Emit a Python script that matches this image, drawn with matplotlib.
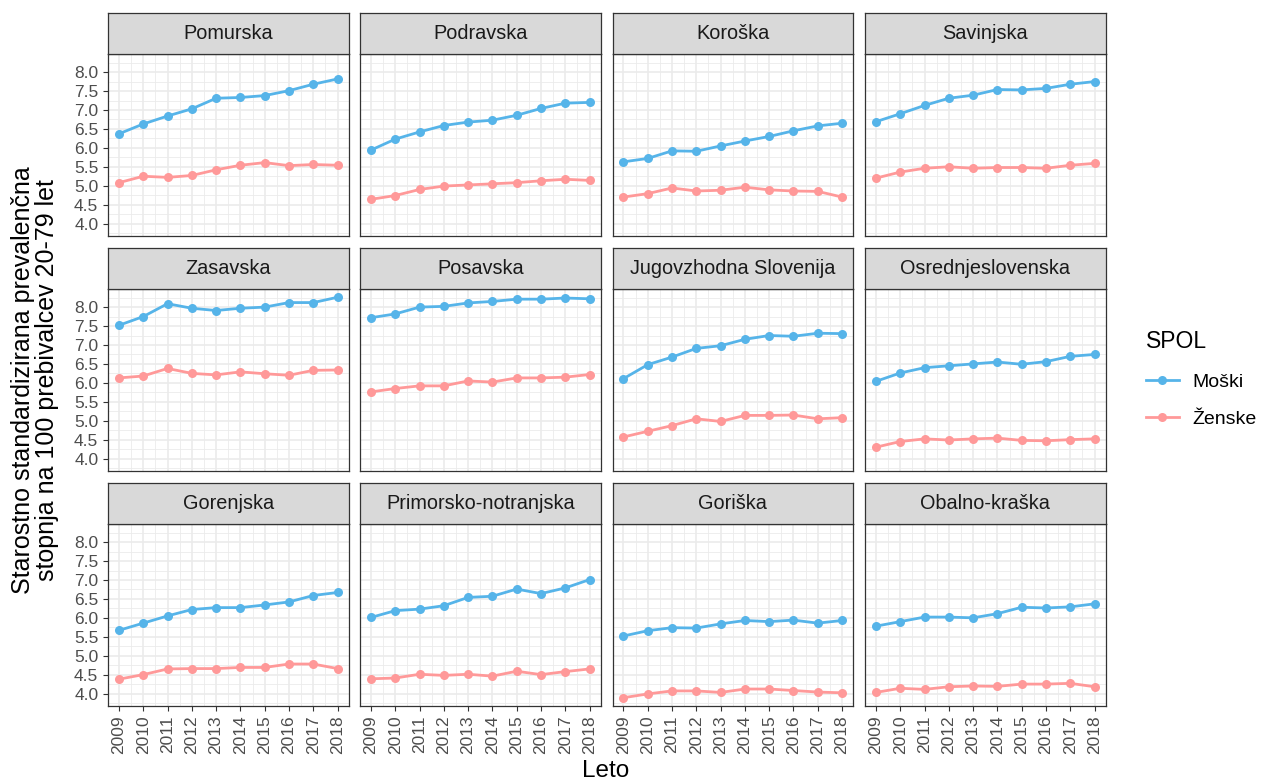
import matplotlib
matplotlib.use("Agg")
import matplotlib.pyplot as plt
from matplotlib.lines import Line2D
import numpy as np

plt.rcParams['font.family'] = ['Liberation Sans', 'DejaVu Sans']

years = list(range(2009, 2019))
regions = ["Pomurska", "Podravska", "Koroška", "Savinjska",
           "Zasavska", "Posavska", "Jugovzhodna Slovenija", "Osrednjeslovenska",
           "Gorenjska", "Primorsko-notranjska", "Goriška", "Obalno-kraška"]

moski = {
    "Pomurska": [6.37, 6.63, 6.84, 7.03, 7.31, 7.33, 7.38, 7.51, 7.68, 7.82],
    "Podravska": [5.94, 6.23, 6.42, 6.59, 6.68, 6.73, 6.86, 7.04, 7.18, 7.20],
    "Koroška": [5.63, 5.72, 5.92, 5.91, 6.05, 6.18, 6.30, 6.45, 6.58, 6.65],
    "Savinjska": [6.69, 6.90, 7.12, 7.31, 7.39, 7.54, 7.53, 7.57, 7.68, 7.75],
    "Zasavska": [7.52, 7.75, 8.09, 7.97, 7.91, 7.97, 8.00, 8.12, 8.12, 8.26],
    "Posavska": [7.72, 7.82, 8.00, 8.02, 8.11, 8.15, 8.21, 8.21, 8.24, 8.22],
    "Jugovzhodna Slovenija": [6.11, 6.48, 6.68, 6.91, 6.98, 7.15, 7.25, 7.23, 7.31, 7.30],
    "Osrednjeslovenska": [6.04, 6.26, 6.40, 6.45, 6.50, 6.55, 6.49, 6.56, 6.70, 6.75],
    "Gorenjska": [5.67, 5.86, 6.05, 6.22, 6.27, 6.27, 6.34, 6.42, 6.59, 6.67],
    "Primorsko-notranjska": [6.01, 6.19, 6.23, 6.32, 6.54, 6.57, 6.76, 6.64, 6.79, 7.01],
    "Goriška": [5.52, 5.66, 5.74, 5.73, 5.84, 5.93, 5.90, 5.94, 5.86, 5.93],
    "Obalno-kraška": [5.78, 5.90, 6.02, 6.02, 6.00, 6.11, 6.28, 6.26, 6.29, 6.37],
}
zenske = {
    "Pomurska": [5.08, 5.25, 5.22, 5.27, 5.42, 5.54, 5.61, 5.53, 5.56, 5.54],
    "Podravska": [4.64, 4.74, 4.90, 4.99, 5.02, 5.05, 5.08, 5.13, 5.17, 5.14],
    "Koroška": [4.70, 4.79, 4.94, 4.86, 4.88, 4.96, 4.89, 4.86, 4.85, 4.70],
    "Savinjska": [5.20, 5.36, 5.46, 5.50, 5.46, 5.48, 5.48, 5.46, 5.54, 5.59],
    "Zasavska": [6.13, 6.18, 6.38, 6.25, 6.21, 6.29, 6.24, 6.20, 6.33, 6.34],
    "Posavska": [5.76, 5.85, 5.92, 5.92, 6.05, 6.02, 6.13, 6.13, 6.15, 6.22],
    "Jugovzhodna Slovenija": [4.57, 4.72, 4.87, 5.05, 4.98, 5.14, 5.14, 5.15, 5.05, 5.08],
    "Osrednjeslovenska": [4.30, 4.45, 4.52, 4.49, 4.52, 4.54, 4.48, 4.47, 4.50, 4.52],
    "Gorenjska": [4.38, 4.50, 4.65, 4.66, 4.66, 4.69, 4.69, 4.78, 4.78, 4.66],
    "Primorsko-notranjska": [4.39, 4.41, 4.51, 4.48, 4.51, 4.46, 4.59, 4.50, 4.58, 4.65],
    "Goriška": [3.89, 3.99, 4.07, 4.07, 4.03, 4.12, 4.12, 4.08, 4.04, 4.02],
    "Obalno-kraška": [4.03, 4.14, 4.11, 4.18, 4.20, 4.19, 4.25, 4.25, 4.27, 4.18],
}
series_labels = ["Moški", "Ženske"]
series_colors = ["#56B4E9", "#FF9999"]
y_ticks = [4.0, 4.5, 5.0, 5.5, 6.0, 6.5, 7.0, 7.5, 8.0]
y_title = "Starostno standardizirana prevalenčna\nstopnja na 100 prebivalcev 20-79 let"
x_title = "Leto"
legend_title = "SPOL"

W, H = 1263, 783
fig = plt.figure(figsize=(W / 100, H / 100), dpi=100)

def box(x0, y0, x1, y1):
    return [x0 / W, 1 - y1 / H, (x1 - x0) / W, (y1 - y0) / H]

col_left = [108, 360, 612.5, 865]
pw = 240.5
row_top = [54, 289, 524]
ph = 182
sh = 41

allv = [v for d in (moski, zenske) for r in d for v in d[r]]
ymin, ymax = min(allv), max(allv)
pad = (ymax - ymin) * 0.05
ylim = (ymin - pad, ymax + pad)
xlim = (years[0] - 0.45, years[-1] + 0.45)

grid_c = "#EBEBEB"
border_c = "#333333"
text_c = "#4D4D4D"
LW = 2.0
MS = 6.5

for i, reg in enumerate(regions):
    r, c = divmod(i, 4)
    x0 = col_left[c]
    y0 = row_top[r]
    ax = fig.add_axes(box(x0, y0, x0 + pw, y0 + ph))
    ax.set_xlim(*xlim)
    ax.set_ylim(*ylim)
    for yv in np.arange(3.75, 8.51, 0.25):
        major = abs(yv * 2 - round(yv * 2)) < 1e-6
        ax.axhline(yv, color=grid_c, lw=1.2 if major else 0.6, zorder=0)
    for xv in np.arange(2008.5, 2018.51, 0.5):
        major = abs(xv - round(xv)) < 1e-6
        ax.axvline(xv, color=grid_c, lw=1.2 if major else 0.6, zorder=0)
    for d, col in zip((moski, zenske), series_colors):
        ax.plot(years, d[reg], color=col, lw=LW, marker='o', ms=MS,
                markeredgewidth=0, zorder=3, solid_capstyle='butt')
    for s in ax.spines.values():
        s.set_color(border_c)
        s.set_linewidth(0.9)
    ax.set_yticks(y_ticks)
    ax.set_xticks(years)
    ax.tick_params(colors=border_c, length=3.5, width=0.8, labelcolor=text_c, labelsize=12.5)
    if c == 0:
        ax.set_yticklabels([f"{v:.1f}" for v in y_ticks])
    else:
        ax.tick_params(axis='y', left=False, labelleft=False)
    if r == 2:
        ax.set_xticklabels([str(y) for y in years], rotation=90)
    else:
        ax.tick_params(axis='x', bottom=False, labelbottom=False)
    sax = fig.add_axes(box(x0, y0 - sh, x0 + pw, y0))
    sax.set_facecolor("#D9D9D9")
    sax.set_xticks([]); sax.set_yticks([])
    for s in sax.spines.values():
        s.set_color(border_c)
        s.set_linewidth(0.9)
    sax.text(0.5, 0.5, reg, ha='center', va='center', fontsize=14.3,
             color="#1A1A1A", transform=sax.transAxes)

fig.text(35 / W, 1 - 380 / H, y_title, rotation=90, ha='center', va='center',
         fontsize=18, color='black', linespacing=1.0)
fig.text(606 / W, 1 - 771 / H, x_title, ha='center', va='center', fontsize=17.5,
         color='black')

handles = [Line2D([0], [0], color=col, lw=LW, marker='o', ms=MS, markeredgewidth=0)
           for col in series_colors]
leg = fig.legend(handles, series_labels, title=legend_title, loc='upper left',
                 bbox_to_anchor=(1128 / W, 1 - 313 / H), frameon=False,
                 fontsize=14, title_fontsize=16.5, handlelength=1.7,
                 labelspacing=1.0, handletextpad=0.7)
leg._legend_box.align = "left"

fig.savefig("out.png", dpi=100)
